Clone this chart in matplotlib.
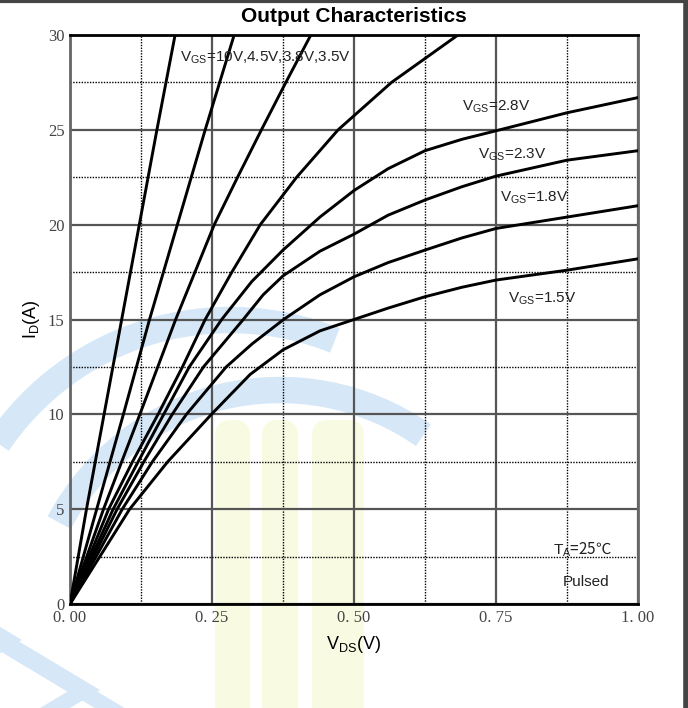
import numpy as np
import matplotlib
matplotlib.use('Agg')
import matplotlib.pyplot as plt
from matplotlib.patches import Arc, Polygon, FancyBboxPatch

plt.rcParams['mathtext.fontset'] = 'custom'
plt.rcParams['mathtext.rm'] = 'Liberation Sans'

# Vds (V) / Id (A) points
vds_10v = [0, 0.029, 0.060, 0.091, 0.122, 0.153, 0.185]
id_10v = [0, 5, 10, 15, 20, 25, 30]

vds_45v = [0, 0.047, 0.094, 0.140, 0.189, 0.238, 0.289]
id_45v = [0, 5, 10, 15, 20, 25, 30]

vds_38v = [0, 0.059, 0.123, 0.186, 0.254, 0.295, 0.337, 0.380, 0.424]
id_38v = [0, 5, 10, 15, 20, 22.5, 25, 27.5, 30]

vds_35v = [0, 0.068, 0.110, 0.155, 0.198, 0.238, 0.285, 0.335, 0.399, 0.472, 0.566, 0.683]
id_35v = [0, 5, 7.5, 10, 12.5, 15, 17.5, 20, 22.5, 25, 27.5, 30]

vds_28v = [0, 0.076, 0.120, 0.165, 0.210, 0.267, 0.320, 0.375, 0.440, 0.500,
           0.560, 0.625, 0.690, 0.750, 0.875, 1.0]
id_28v = [0, 5, 7.5, 10, 12.5, 15, 17.0, 18.66, 20.4, 21.8,
          22.95, 23.9, 24.5, 24.95, 25.9, 26.7]

vds_23v = [0, 0.083, 0.130, 0.180, 0.235, 0.305, 0.340, 0.375, 0.440, 0.500,
           0.560, 0.625, 0.690, 0.750, 0.875, 1.0]
id_23v = [0, 5, 7.5, 10, 12.5, 15, 16.3, 17.3, 18.6, 19.5,
          20.5, 21.3, 22.0, 22.56, 23.4, 23.9]

vds_18v = [0, 0.092, 0.145, 0.205, 0.275, 0.320, 0.376, 0.440, 0.500, 0.560,
           0.625, 0.690, 0.750, 0.875, 1.0]
id_18v = [0, 5, 7.5, 10, 12.5, 13.7, 15, 16.3, 17.25, 18.0,
          18.66, 19.3, 19.8, 20.4, 21.0]

vds_15v = [0, 0.105, 0.172, 0.249, 0.317, 0.375, 0.440, 0.500, 0.560, 0.625,
           0.690, 0.750, 0.875, 1.0]
id_15v = [0, 5, 7.5, 10, 12.1, 13.4, 14.4, 15.0, 15.6, 16.2,
          16.7, 17.08, 17.6, 18.2]

x_ticks = [0, 0.25, 0.5, 0.75, 1.0]
x_ticklabels = ['0. 00', '0. 25', '0. 50', '0. 75', '1. 00']
y_ticks = [0, 5, 10, 15, 20, 25, 30]

fig = plt.figure(figsize=(6.88, 7.08), dpi=100)

# background layer in pixel units for the faint watermark and the frame
bg = fig.add_axes([0, 0, 1, 1], zorder=-1)
bg.set_xlim(0, 688)
bg.set_ylim(708, 0)
bg.axis('off')

wm_blue = '#d6e8f8'
wm_yel = '#f8fbe2'
for cx, cy, r, t1, t2 in [(230, 600, 280, 214, 292), (280, 640, 250, 208, 305)]:
    bg.add_patch(Arc((cx, cy), 2 * r, 2 * r, theta1=t1, theta2=t2,
                     color=wm_blue, lw=19))
for xl, w in [(215, 35), (262, 36), (312, 52)]:
    bg.add_patch(FancyBboxPatch((xl, 420), w, 300, boxstyle='round,pad=0,rounding_size=16',
                                facecolor=wm_yel, edgecolor='none'))
# chevron stripes at the lower left
for tx, ty in [(22, 640), (100, 690), (178, 740)]:
    k = 0.6
    bg.add_patch(Polygon([(0, ty - tx * k), (tx, ty), (0, ty + tx * k),
                          (0, ty + (tx - 30) * k), (tx - 30, ty), (0, ty - (tx - 30) * k)],
                         closed=True, facecolor=wm_blue, edgecolor='none'))

bg.plot([0, 688], [1, 1], color='#444444', lw=3)
bg.plot([686, 686], [0, 708], color='#444444', lw=4)

ax = fig.add_axes([70 / 688, 1 - 604 / 708, 568 / 688, 569 / 708])
ax.patch.set_alpha(0)

for vv, ii in [(vds_10v, id_10v), (vds_45v, id_45v), (vds_38v, id_38v), (vds_35v, id_35v),
               (vds_28v, id_28v), (vds_23v, id_23v), (vds_18v, id_18v), (vds_15v, id_15v)]:
    ax.plot(vv, ii, color='black', lw=2.1, solid_joinstyle='round', zorder=4)

ax.set_xlim(0, 1.0)
ax.set_ylim(0, 30)
ax.set_xticks(x_ticks)
ax.set_xticklabels(x_ticklabels)
ax.set_yticks(y_ticks)
ax.set_xticks(np.arange(0.125, 1.0, 0.25), minor=True)
ax.set_yticks(np.arange(2.5, 30, 5), minor=True)

ax.grid(which='major', color='#555555', lw=1.6, ls='-', zorder=1)
ax.grid(which='minor', color='black', lw=1.0, ls=(0, (1, 1)), zorder=1)

ax.tick_params(which='both', direction='in', length=0, pad=4)
for lab in ax.get_xticklabels() + ax.get_yticklabels():
    lab.set_fontfamily('Liberation Serif')
    lab.set_fontsize(12)
    lab.set_color('#444444')

for side in ['top', 'bottom']:
    ax.spines[side].set_linewidth(2)
    ax.spines[side].set_color('black')
for side in ['left', 'right']:
    ax.spines[side].set_linewidth(2)
    ax.spines[side].set_color('#666666')

ax.set_title('Output Characteristics', fontsize=15, fontweight='bold',
             family='Liberation Sans', pad=9)
ax.set_xlabel(r'$\mathrm{V_{DS}}$(V)', fontsize=13, family='Liberation Sans', labelpad=6)
ax.set_ylabel(r'$\mathrm{I_{D}}$(A)', fontsize=13, family='Liberation Sans', labelpad=4)

txt = dict(fontsize=11, family='Liberation Sans', color='#222222', va='center', zorder=5)
ax.text(0.193, 28.8, r'$\mathrm{V_{GS}}$=10V,4.5V,3.8V,3.5V', **txt)
ax.text(0.690, 26.2, r'$\mathrm{V_{GS}}$=2.8V', **txt)
ax.text(0.718, 23.7, r'$\mathrm{V_{GS}}$=2.3V', **txt)
ax.text(0.757, 21.4, r'$\mathrm{V_{GS}}$=1.8V', **txt)
ax.text(0.771, 16.1, r'$\mathrm{V_{GS}}$=1.5V', **txt)
ax.text(0.868, 1.15, 'Pulsed', **txt)
# the degree-Celsius sign needs a CJK face for the plain part of the string
txt['family'] = 'Noto Sans CJK SC'
ax.text(0.850, 2.85, r'$\mathrm{T_{A}}$=25℃', **txt)

fig.savefig('out.png', dpi=100)
